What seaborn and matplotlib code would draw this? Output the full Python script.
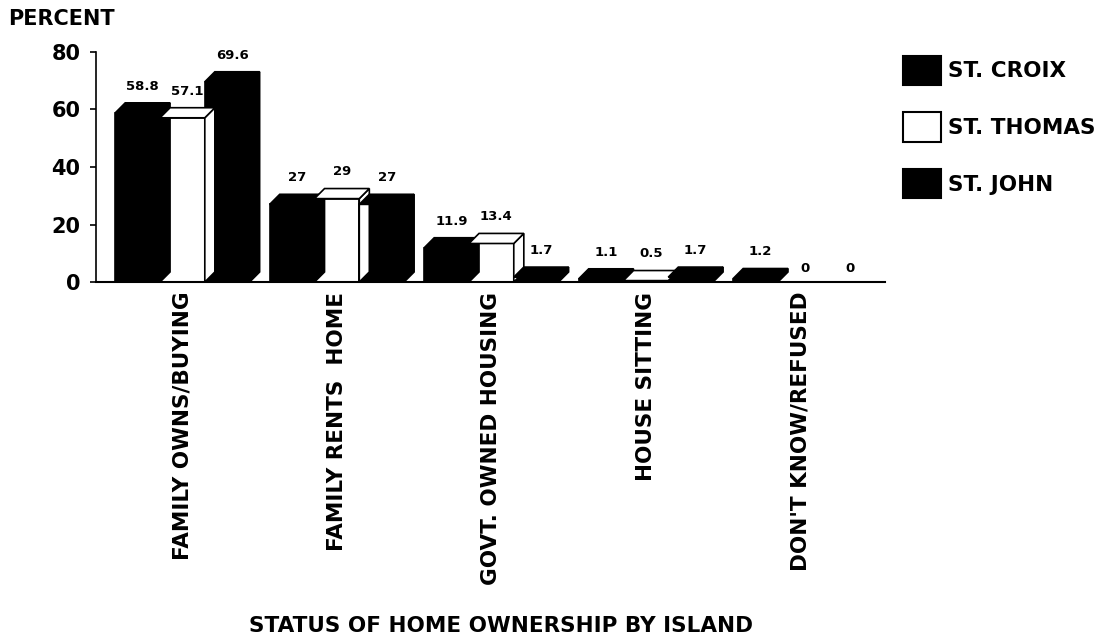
import numpy as np
import pandas as pd
import seaborn as sns
import matplotlib.pyplot as plt
from matplotlib.patches import Polygon, Patch

# Data
categories = ["FAMILY OWNS/BUYING", "FAMILY RENTS  HOME", "GOVT. OWNED HOUSING",
              "HOUSE SITTING", "DON'T KNOW/REFUSED"]
islands = ["ST. CROIX", "ST. THOMAS", "ST. JOHN"]
st_croix = [58.8, 27, 11.9, 1.1, 1.2]
st_thomas = [57.1, 29, 13.4, 0.5, 0]
st_john = [69.6, 27, 1.7, 1.7, 0]

df = pd.DataFrame({
    "status": categories * 3,
    "island": [islands[0]] * 5 + [islands[1]] * 5 + [islands[2]] * 5,
    "percent": st_croix + st_thomas + st_john,
})

sns.set_style("white")
plt.rcParams["font.family"] = ["DejaVu Sans"]
plt.rcParams["font.weight"] = "bold"
plt.rcParams["text.color"] = "black"
plt.rcParams["xtick.color"] = "black"
plt.rcParams["ytick.color"] = "black"
plt.rcParams["axes.edgecolor"] = "black"

fig = plt.figure(figsize=(11.15, 6.41), dpi=100)
ax = fig.add_axes([0.086, 0.56, 0.708, 0.359])

palette = {islands[0]: "black", islands[1]: "white", islands[2]: "black"}
sns.barplot(data=df, x="status", y="percent", hue="island", order=categories,
            hue_order=islands, palette=palette, edgecolor="black", linewidth=1.2,
            width=0.87, gap=0, legend=False, ax=ax)

ax.set_xlim(-0.56, 4.55)
ax.set_ylim(0, 80)

# faux 3D depth on top and right side of each bar
dx, dy = 0.065, 3.5
for bar in ax.patches:
    h = bar.get_height()
    if h <= 0:
        continue
    x0 = bar.get_x()
    x1 = x0 + bar.get_width()
    fc = bar.get_facecolor()
    top = Polygon([(x0, h), (x0 + dx, h + dy), (x1 + dx, h + dy), (x1, h)],
                  closed=True, facecolor=fc, edgecolor="black", lw=1.2, clip_on=False)
    side = Polygon([(x1, 0), (x1, h), (x1 + dx, h + dy), (x1 + dx, dy)],
                   closed=True, facecolor=fc, edgecolor="black", lw=1.2, clip_on=False)
    ax.add_patch(side)
    ax.add_patch(top)

# value labels
for container, vals in zip(ax.containers, [st_croix, st_thomas, st_john]):
    for bar, v in zip(container, vals):
        cx = bar.get_x() + bar.get_width() / 2 + dx / 2
        ax.text(cx, v + dy + 3.5 if v > 0 else 2.5, f"{v:g}", ha="center", va="bottom",
                fontsize=9.5, fontweight="bold", clip_on=False)

ax.set_yticks([0, 20, 40, 60, 80])
ax.tick_params(axis="y", labelsize=15, length=4, width=1.2, direction="out", left=True, pad=7)
ax.tick_params(axis="x", labelsize=15.5, length=0, pad=7)
for lab in ax.get_xticklabels():
    lab.set_rotation(90)
    lab.set_fontweight("bold")
for lab in ax.get_yticklabels():
    lab.set_fontweight("bold")

sns.despine(ax=ax, top=True, right=True)
ax.spines["left"].set_linewidth(1.2)
ax.spines["bottom"].set_linewidth(1.5)
ax.set_xlabel("")
ax.set_ylabel("")

fig.text(0.007, 0.97, "PERCENT", fontsize=15, fontweight="bold", ha="left", va="center")
fig.text(0.449, 0.024, "STATUS OF HOME OWNERSHIP BY ISLAND", fontsize=15.5,
         fontweight="bold", ha="center", va="center")

handles = [Patch(facecolor=palette[i], edgecolor="black", lw=1.5, label=i) for i in islands]
fig.legend(handles=handles, loc="upper left", bbox_to_anchor=(0.81, 0.913),
           frameon=False, handlelength=1.77, handleheight=1.72, borderpad=0,
           borderaxespad=0, labelspacing=1.27, handletextpad=0.3,
           prop={"weight": "bold", "size": 15.5})

fig.savefig("out.png", dpi=100)
